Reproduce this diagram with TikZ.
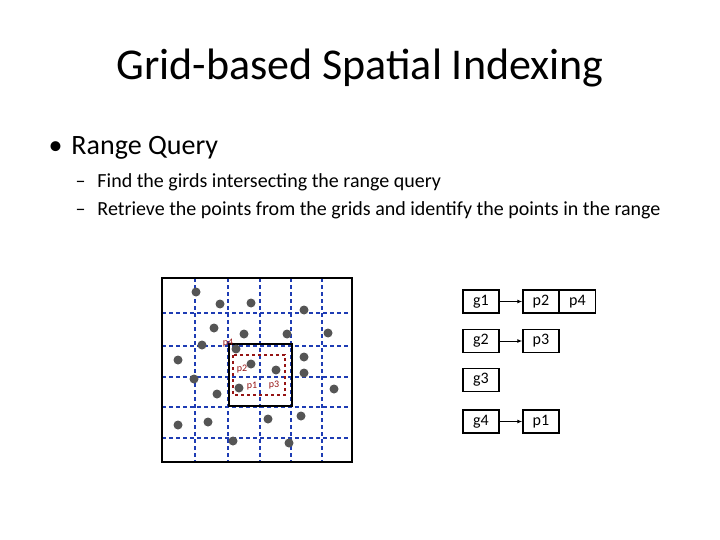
\documentclass[tikz,border=0pt]{standalone}
\usepackage{fontspec}
\setmainfont{Carlito}
\usetikzlibrary{arrows.meta}
\definecolor{gbl}{RGB}{30,60,180}
\definecolor{dred}{RGB}{150,20,20}
\definecolor{dotc}{RGB}{85,85,85}
\tikzset{
  gline/.style={gbl,dash pattern=on 4pt off 3pt,line width=1.2pt},
  dotn/.style={circle,fill=dotc,inner sep=0pt,minimum size=9pt},
  plab/.style={dred,font=\fontsize{10}{10}\selectfont,inner sep=0pt},
  cell/.style={draw,line width=1.1pt,minimum width=36pt,minimum height=23pt,inner sep=0pt,font=\fontsize{16}{16}\selectfont},
  arr/.style={-{Latex[length=5pt]},line width=1pt}
}
\begin{document}
\begin{tikzpicture}[x=1pt,y=-1pt]
\useasboundingbox (0,0) rectangle (720,540);
\node (title) at (360,68) {\fontsize{44}{44}\selectfont Grid-based Spatial Indexing};
\node[anchor=west] (b1) at (45,148) {\fontsize{28}{28}\selectfont •\hspace{9pt}Range Query};
\node[anchor=west] (s1) at (72,182) {\fontsize{20}{20}\selectfont –\hspace{12pt}Find the girds intersecting the range query};
\node[anchor=west] (s2) at (72,210) {\fontsize{20}{20}\selectfont –\hspace{12pt}Retrieve the points from the grids and identify the points in the range};
% grid
\foreach \x in {195,228,260,291,322} \draw[gline] (\x,278) -- (\x,462);
\foreach \y in {313,346,377,407,438} \draw[gline] (162,\y) -- (352,\y);
\draw[line width=2pt] (162,278) rectangle (352,462);
\draw[line width=2pt] (229,344) rectangle (292,406);
\draw[dred,dashed,line width=2pt] (233,355) rectangle (285,395);
\foreach \p [count=\i] in {(196,292),(220,304),(251,303),(304,310),(214,328),(244,334),(287,334),(328,333),(202,345),(236,349),(178,360),(251,364),(304,357),(276,370),(304,373),(194,379),(239,388),(217,394),(334,389),(268,419),(301,416),(178,425),(208,422),(233,441),(289,443)}
  \node[dotn] (d\i) at \p {};
\node[plab] (lp4) at (228,343) {p4};
\node[plab] (lp2) at (242,369) {p2};
\node[plab] (lp1) at (252,386) {p1};
\node[plab] (lp3) at (274,385) {p3};
% lists
\node[cell] (g1) at (481,301.5) {g1};
\node[cell] (g2) at (481,341) {g2};
\node[cell] (g3) at (481,380) {g3};
\node[cell] (g4) at (481,421.5) {g4};
\node[cell] (q2) at (541,301.5) {p2};
\node[cell] (q4) at (577.5,301.5) {p4};
\node[cell] (q3) at (541,341) {p3};
\node[cell] (q1) at (541,421.5) {p1};
\draw[arr] (g1) -- (q2);
\draw[arr] (g2) -- (q3);
\draw[arr] (g4) -- (q1);
\end{tikzpicture}
\end{document}
